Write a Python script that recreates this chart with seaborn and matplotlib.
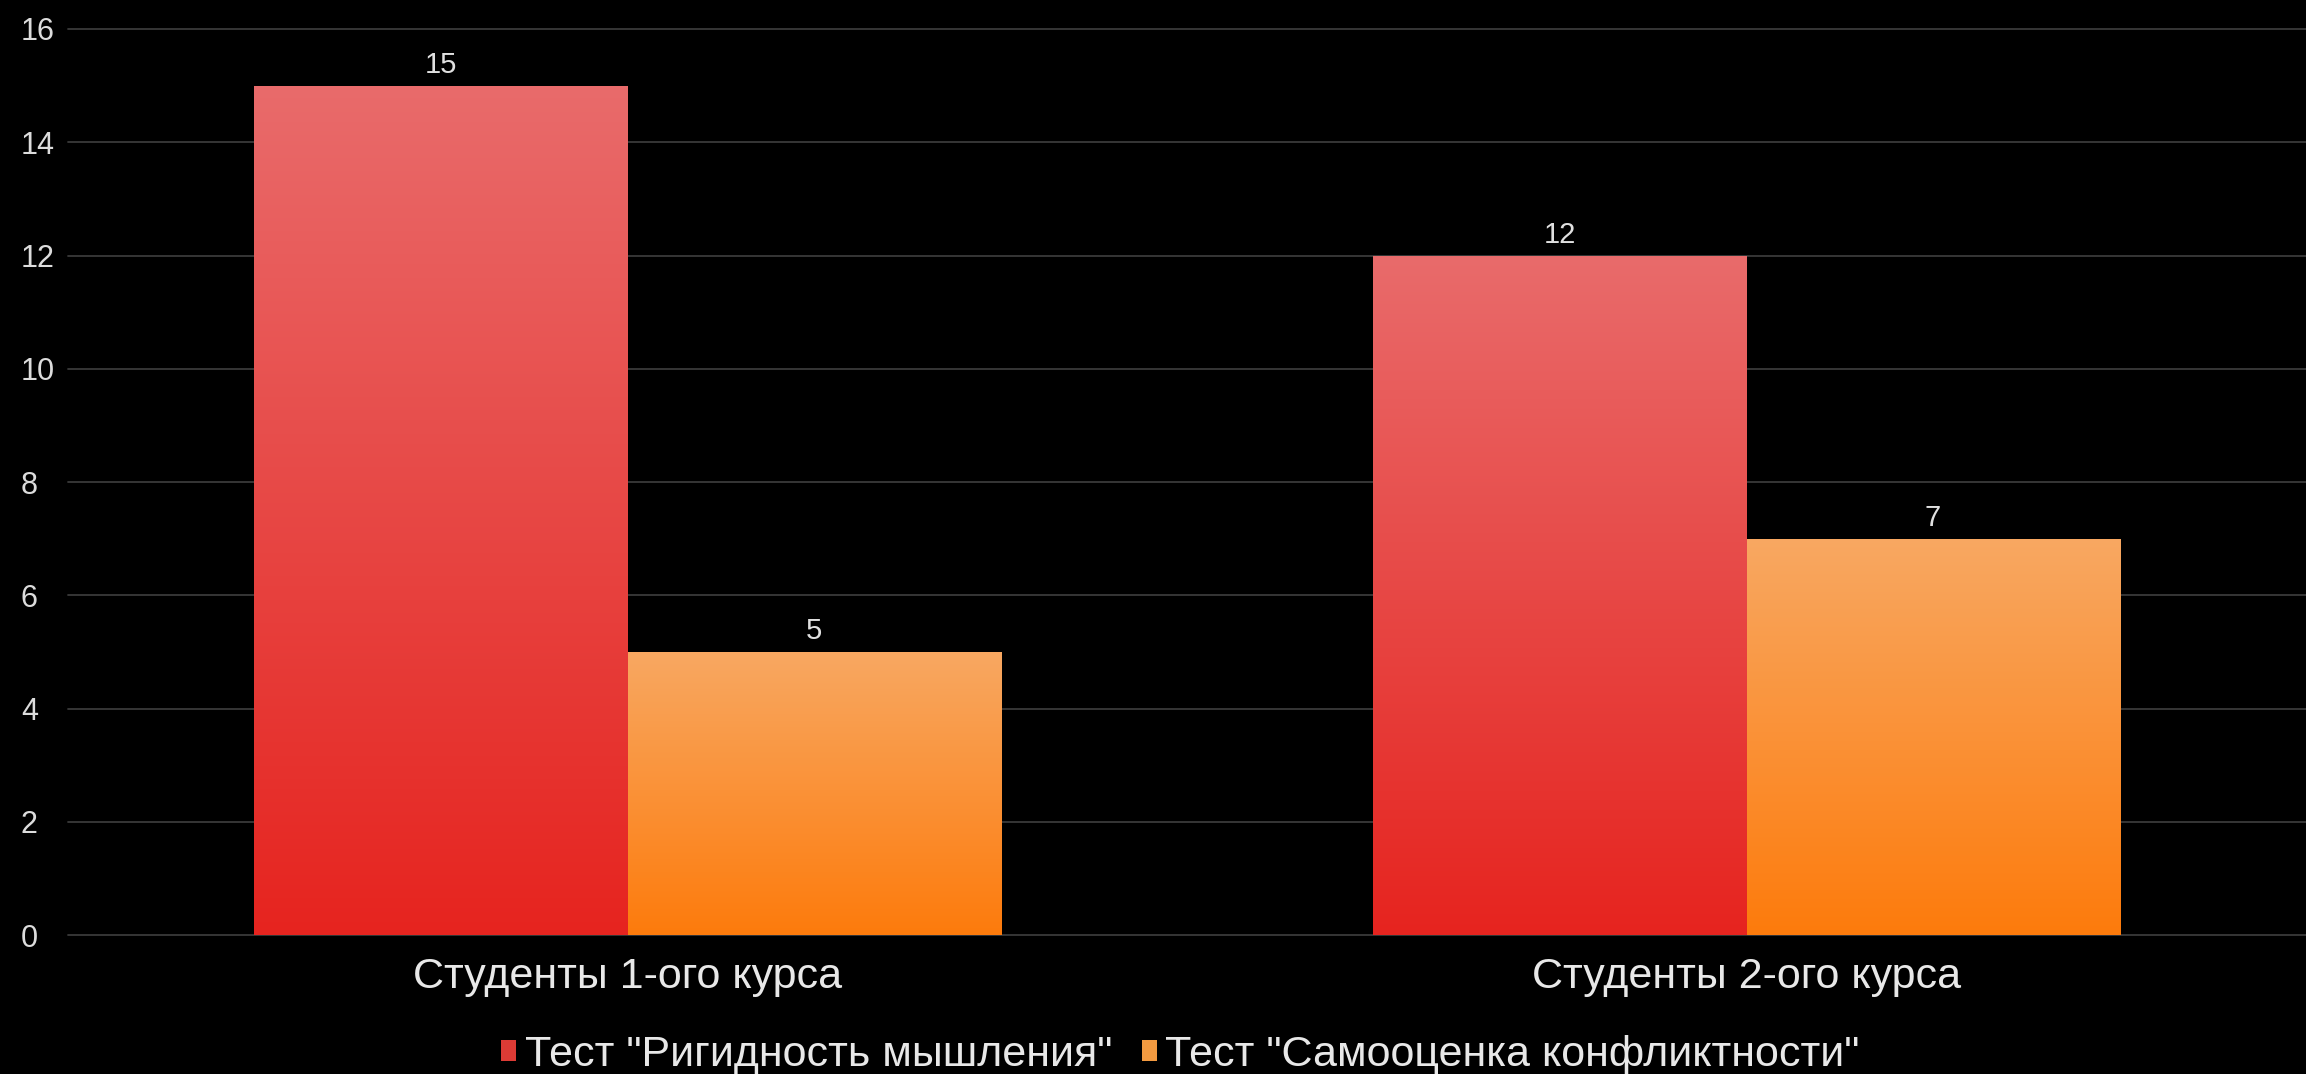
import numpy as np
import pandas as pd
import matplotlib.pyplot as plt
import seaborn as sns
from matplotlib.colors import LinearSegmentedColormap
from matplotlib.patches import Patch

groups = ["Студенты 1-ого курса", "Студенты 2-ого курса"]
tests = ['Тест "Ригидность мышления"', 'Тест "Самооценка конфликтности"']
rigidity = [15, 12]
conflict = [5, 7]

df = pd.DataFrame({
    "group": groups * 2,
    "test": [tests[0]] * 2 + [tests[1]] * 2,
    "value": rigidity + conflict,
})

# gradient ends per series (top of bar -> bottom of bar)
top_colors = ["#e96b6b", "#f8a862"]
bottom_colors = ["#e6241f", "#fd7b0c"]
legend_colors = ["#dd3b35", "#f39a40"]

sns.set_theme(style="dark")
plt.rcParams["font.family"] = ["Liberation Sans", "DejaVu Sans"]

fig = plt.figure(figsize=(23.06, 10.74), dpi=100, facecolor="black")
ax = fig.add_axes([0.0295, 0.1294, 0.9705, 0.8436])
ax.set_facecolor("black")

sns.barplot(data=df, x="group", y="value", hue="test", hue_order=tests,
            palette=legend_colors, width=0.667, ax=ax, legend=False,
            errorbar=None, zorder=2)

grad = np.linspace(0, 1, 256).reshape(-1, 1)
for i, cont in enumerate(ax.containers):
    cmap = LinearSegmentedColormap.from_list(f"g{i}", [bottom_colors[i], top_colors[i]])
    for bar in cont:
        x0, w, h = bar.get_x(), bar.get_width(), bar.get_height()
        im = ax.imshow(grad, extent=[x0, x0 + w, 0, h], origin="lower",
                       cmap=cmap, aspect="auto", zorder=2)
        im.set_clip_path(bar)
        bar.set_facecolor("none")
        bar.set_edgecolor("none")
    ax.bar_label(cont, fmt="%d", padding=5, color="#e0e0e0", fontsize=21)

ax.set_xlim(-0.5, 1.5)
ax.set_ylim(0, 16)
ax.set_yticks(range(0, 17, 2))
ax.grid(axis="y", color="#3a3a3a", linewidth=1.3)
ax.grid(axis="x", visible=False)
ax.set_axisbelow(True)
for line in ax.get_ygridlines():
    line.set_clip_on(False)
for s in ax.spines.values():
    s.set_visible(False)

ax.set_xlabel("")
ax.set_ylabel("")
ax.tick_params(axis="y", length=0, pad=34, labelsize=22, labelcolor="#dcdcdc")
ax.tick_params(axis="x", length=0, pad=16, labelsize=31, labelcolor="#e8e8e8")
for lbl in ax.get_yticklabels():
    lbl.set_ha("left")

handles = [Patch(facecolor=c, edgecolor="none") for c in legend_colors]
fig.legend(handles, tests, loc="center", bbox_to_anchor=(0.512, 1 - 1055 / 1074),
           ncol=2, frameon=False, fontsize=31, labelcolor="#e8e8e8",
           handlelength=0.34, handleheight=0.38, handletextpad=0.2,
           columnspacing=0.7)

fig.savefig("out.png", dpi=100, facecolor="black")
